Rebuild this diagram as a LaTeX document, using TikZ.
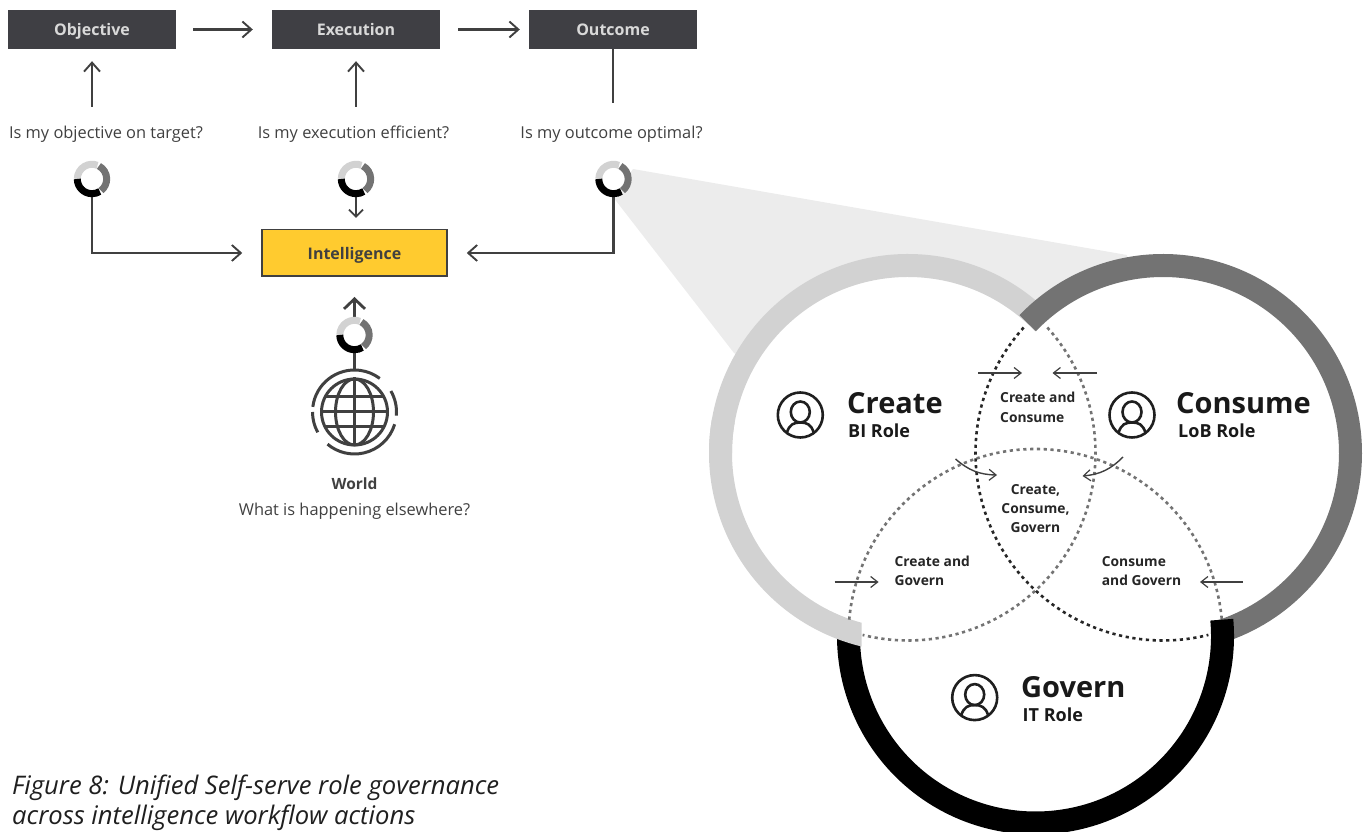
\documentclass[tikz,border=0pt]{standalone}
\usepackage{fontspec}
\usepackage{tikz}
\usetikzlibrary{arrows.meta,positioning,calc}
\setmainfont{Open Sans}
\newcommand{\fsize}[1]{\fontsize{#1}{#1}\selectfont}
\definecolor{boxgrey}{HTML}{3F3F44}
\definecolor{txtgrey}{HTML}{404040}
\definecolor{ringlight}{HTML}{D2D2D2}
\definecolor{ringdark}{HTML}{737373}
\definecolor{fangrey}{HTML}{ECECEC}
\definecolor{intelyellow}{HTML}{FFCB2F}

\begin{document}
\begin{tikzpicture}[x=1pt,y=1pt,
        >={Straight Barb[length=9pt,width=16pt,line width=1.9pt]},
        stagebox/.style={fill=boxgrey,text=white!85!black,minimum width=168pt,minimum height=39pt,inner sep=0pt,text height=14pt,text depth=1pt,font=\bfseries\fsize{16}},
        question/.style={anchor=base,inner sep=0pt,text=txtgrey,font=\fsize{16.4}},
        flow/.style={draw=txtgrey,line width=2.2pt},
        thinflow/.style={draw=txtgrey,line width=1.4pt,>={Straight Barb[length=7pt,width=11pt,line width=1.2pt]}},
        ring/.style={line width=23pt,line cap=butt},
        dots/.style={line width=2.6pt,dash pattern=on 3.2pt off 3.6pt},
        rolename/.style={anchor=base west,inner sep=0pt,text=black!90,font=\bfseries\fsize{29}},
        rolesub/.style={anchor=base west,inner sep=0pt,text=black!90,font=\bfseries\fsize{18}},
        overlap/.style={anchor=base west,inner sep=0pt,text=black!85,font=\bfseries\fsize{13.8}},
        overlapmid/.style={overlap,anchor=base},
        donutarc/.style={line width=7pt,line cap=butt},
        icon/.style={draw=black!88,line width=2.6pt},
        globeline/.style={draw=txtgrey,line width=3pt},
        captionline/.style={anchor=base west,inner sep=0pt,text=black!88,font=\itshape\fsize{25.6}}]
    \useasboundingbox (0,0) rectangle (1366,832);
    % top row
    \node[stagebox] (objective) at (92,802.5) {Objective};
    \node[stagebox] (execution) at (356,802.5) {Execution};
    \node[stagebox] (outcome) at (613,802.5) {Outcome};
    \draw[flow,->,shorten <=17pt,shorten >=19pt] (objective) -- (execution);
    \draw[flow,->,shorten <=18pt,shorten >=9pt] (execution) -- (outcome);
    \node[question] (askobjective) at (106,693) {Is my objective on target?};
    \node[question] (askexecution) at (353.5,693) {Is my execution efficient?};
    \node[question] (askoutcome) at (611.5,693) {Is my outcome optimal?};
    \coordinate (objfoot) at (92,725);
    \coordinate (exefoot) at (356,725);
    \coordinate (outfoot) at (613,729);
    \draw[flow,->,shorten >=12pt] (objfoot) -- (objective.south);
    \draw[flow,->,shorten >=12pt] (exefoot) -- (execution.south);
    \draw[flow] (outfoot) -- (outcome.south);
    % fan behind the circles
    \coordinate (create) at (908,379);
    \coordinate (consume) at (1163,379);
    \coordinate (govern) at (1035.5,196);
    \fill[fangrey] (633,663) -- (1127,577) -- (consume) -- (create) -- (734,479) -- (613,635) -- cycle;
    \fill[white] (create) circle[radius=187.5pt];
    \fill[white] (consume) circle[radius=187.5pt];
    % intelligence
    \node[fill=intelyellow,draw=txtgrey,line width=1.5pt,minimum width=185pt,minimum height=46.5pt,inner sep=0pt,text height=14pt,text depth=1pt,text=txtgrey,font=\bfseries\fsize{16}] (intelligence) at (354.5,579) {Intelligence};
    \coordinate (donutobj) at (92,653);
    \coordinate (donutexe) at (356,653);
    \coordinate (donutout) at (613.5,653);
    \coordinate (donutworld) at (354.5,497);
    \node[circle,globeline,minimum size=66pt,inner sep=0pt] (globe) at (354.5,420) {};
    \draw[flow,->,shorten <=18pt,shorten >=19pt] (donutobj) |- (intelligence.west);
    \draw[flow,->,shorten <=18pt,shorten >=19pt] (donutout) |- (intelligence.east);
    \draw[flow,->,>={Straight Barb[length=7pt,width=14pt,line width=1.9pt]},shorten <=18pt,shorten >=11pt] (donutexe) -- (donutexe |- intelligence.north);
    \draw[flow,->,line width=3pt,>={Straight Barb[length=10pt,width=21pt,line width=2.8pt]},shorten <=18pt,shorten >=20pt] (donutworld) -- (intelligence.south);
    \draw[flow,line width=3pt,shorten <=18pt,shorten >=8pt] (donutworld) -- (globe.north);
    \foreach \d in {donutobj,donutexe,donutout,donutworld} {
        \fill[white] (\d) circle[radius=12pt];
        \draw[donutarc,ringlight] (\d) ++(180:14.7pt) arc[start angle=180,end angle=68,radius=14.7pt];
        \draw[donutarc,ringdark] (\d) ++(62:14.7pt) arc[start angle=62,end angle=-52,radius=14.7pt];
        \draw[donutarc,black] (\d) ++(180:14.7pt) arc[start angle=180,end angle=302,radius=14.7pt];
    }
    % globe
    \draw[globeline] (globe.north) -- (globe.south);
    \draw[globeline] (globe.west) -- (globe.east);
    \draw[globeline] (globe) ellipse[x radius=19pt,y radius=33pt];
    \draw[globeline] ($(globe)+(-29,15)$) -- ($(globe)+(29,15)$);
    \draw[globeline] ($(globe)+(-29,-15)$) -- ($(globe)+(29,-15)$);
    \draw[globeline] (globe) ++(173:42pt) arc[start angle=173,end angle=53,radius=42pt];
    \draw[globeline] (globe) ++(30:42pt) arc[start angle=30,end angle=-5,radius=42pt];
    \draw[globeline] (globe) ++(-17:42pt) arc[start angle=-17,end angle=-130,radius=42pt];
    \draw[globeline] (globe) ++(180:42pt) arc[start angle=180,end angle=209,radius=42pt];
    \node[question,font=\bfseries\fsize{15.5}] (world) at (354.5,342) {World};
    \node[question] (elsewhere) at (354.5,316) {What is happening elsewhere?};
    % rings
    \draw[ring,ringlight] (create) ++(44:187.5pt) arc[start angle=44,end angle=180,radius=187.5pt];
    \draw[ring,ringdark] (consume) ++(136.2:187.5pt) arc[start angle=136.2,end angle=-72,radius=187.5pt];
    \draw[ring,black] (govern) ++(5:187pt) arc[start angle=5,end angle=-180,radius=187pt];
    \begin{scope}
        \clip (0,0) rectangle (861.5,832);
        \draw[ring,ringlight] (create) ++(170:187.5pt) arc[start angle=170,end angle=262,radius=187.5pt];
    \end{scope}
    % dotted parts of the circles
    \draw[dots,ringdark] (create) ++(42:187.5pt) arc[start angle=42,end angle=-104,radius=187.5pt];
    \draw[dots,ringdark] (govern) ++(175:187pt) arc[start angle=175,end angle=5,radius=187pt];
    \draw[dots,black!85] (consume) ++(138:187.5pt) arc[start angle=138,end angle=284,radius=187.5pt];
    % people
    \coordinate (personcreate) at (800.3,417);
    \coordinate (personconsume) at (1132,417);
    \coordinate (persongovern) at (974.7,134.4);
    \foreach \p in {personcreate,personconsume,persongovern} {
        \begin{scope}[shift={(\p)}]
            \draw[icon] (0,0) circle[radius=22.5pt];
            \draw[icon] (0,3) ellipse[x radius=9.5pt,y radius=10.5pt];
            \draw[icon] (-13.5,-18) .. controls (-11,-9) and (-6,-7.5) .. (0,-7.5) .. controls (6,-7.5) and (11,-9) .. (13.5,-18);
        \end{scope}
    }
    \node[rolename] (createname) at (847,418) {Create};
    \node[rolesub] (createrole) at (848,394) {BI Role};
    \node[rolename] (consumename) at (1176,418) {Consume};
    \node[rolesub] (consumerole) at (1178,394) {LoB Role};
    \node[rolename] (governname) at (1021,134) {Govern};
    \node[rolesub] (governrole) at (1022.5,110) {IT Role};
    % overlaps
    \node[overlap] (cc1) at (1000,429) {Create and};
    \node[overlap] (cc2) at (1000,409) {Consume};
    \node[overlapmid] (all1) at (1035.5,337) {Create,};
    \node[overlapmid] (all2) at (1035.5,318) {Consume,};
    \node[overlapmid] (all3) at (1035.5,299) {Govern};
    \node[overlap] (cg1) at (894.5,265) {Create and};
    \node[overlap] (cg2) at (894.5,246) {Govern};
    \node[overlap] (og1) at (1101.7,265) {Consume};
    \node[overlap] (og2) at (1101.7,246) {and Govern};
    \coordinate (a1) at (978,459);
    \coordinate (a2) at (1022,459);
    \coordinate (b1) at (1097,459);
    \coordinate (b2) at (1052.5,459);
    \coordinate (c1) at (955.5,373);
    \coordinate (c2) at (997,357);
    \coordinate (d1) at (1123,375);
    \coordinate (d2) at (1082.5,356);
    \coordinate (e1) at (834.6,250);
    \coordinate (e2) at (878.6,250);
    \coordinate (f1) at (1242.7,250);
    \coordinate (f2) at (1200,250);
    \draw[thinflow,->] (a1) -- (a2);
    \draw[thinflow,->] (b1) -- (b2);
    \draw[thinflow,->] (c1) to[bend right=20] (c2);
    \draw[thinflow,->] (d1) to[bend left=20] (d2);
    \draw[thinflow,->] (e1) -- (e2);
    \draw[thinflow,->] (f1) -- (f2);
    % caption
    \node[captionline] (captiontop) at (12,37) {Figure 8: Unified Self-serve role governance};
    \node[captionline] (captionbottom) at (12,7) {across intelligence workflow actions};
\end{tikzpicture}
\end{document}
